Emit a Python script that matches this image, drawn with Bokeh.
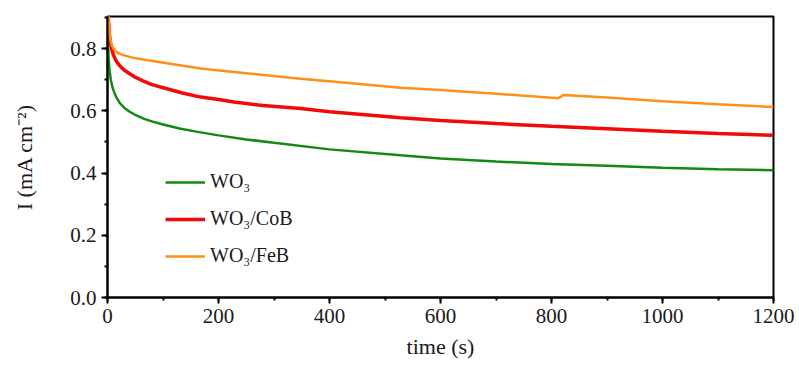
from bokeh.plotting import figure
from bokeh.models import Range1d, FixedTicker, PrintfTickFormatter, Legend, LegendItem
from bokeh.embed import file_html
from bokeh.resources import INLINE

# ---- data ----
t_wo3 = [0, 0.5, 1, 2, 3, 4, 6, 9, 12, 16, 22, 30, 40, 50, 65, 80, 100, 130, 160, 200, 250, 300, 400, 528, 600, 700, 800, 900, 1000, 1100, 1200]
i_wo3 = [0.95, 0.87, 0.82, 0.77, 0.745, 0.725, 0.70, 0.675, 0.660, 0.643, 0.625, 0.610, 0.597, 0.587, 0.575, 0.566, 0.556, 0.543, 0.533, 0.521, 0.508, 0.497, 0.476, 0.457, 0.447, 0.437, 0.429, 0.423, 0.417, 0.412, 0.409]

t_cob = [0, 1, 2, 3, 5, 8, 11, 15, 22, 30, 40, 50, 65, 80, 107, 135, 168, 200, 228, 280, 348, 400, 528, 600, 700, 800, 900, 1000, 1100, 1200]
i_cob = [1.0, 0.93, 0.88, 0.85, 0.82, 0.795, 0.778, 0.762, 0.745, 0.731, 0.719, 0.708, 0.695, 0.684, 0.671, 0.657, 0.644, 0.636, 0.628, 0.617, 0.607, 0.597, 0.578, 0.569, 0.559, 0.55, 0.542, 0.534, 0.527, 0.521]

t_feb = [0, 1, 2, 3, 5, 8, 11, 15, 22, 30, 47, 70, 107, 168, 228, 348, 400, 528, 600, 700, 800, 812, 822, 900, 1000, 1100, 1200]
i_feb = [1.0, 0.95, 0.90, 0.865, 0.83, 0.81, 0.80, 0.79, 0.783, 0.778, 0.770, 0.763, 0.753, 0.736, 0.725, 0.703, 0.695, 0.674, 0.667, 0.655, 0.642, 0.640, 0.651, 0.643, 0.631, 0.621, 0.612]

series_names = ["WO\u2083", "WO\u2083/CoB", "WO\u2083/FeB"]
x_ticks = [0, 200, 400, 600, 800, 1000, 1200]
y_ticks = [0.0, 0.2, 0.4, 0.6, 0.8]
x_label = "time (s)"
y_label = "I (mA cm\u207b\u00b2)"

FONT = "'Liberation Serif', 'Times New Roman', serif"

p = figure(width=799, height=367, output_backend="svg", toolbar_location=None,
           x_range=Range1d(0, 1200), y_range=Range1d(0, 0.903),
           min_border_left=107, min_border_right=26, min_border_top=16, min_border_bottom=70)

p.xgrid.visible = False
p.ygrid.visible = False
p.outline_line_color = "black"
p.outline_line_width = 2
p.background_fill_color = "white"
p.border_fill_color = "white"

r1 = p.line(t_wo3, i_wo3, line_color="#128a12", line_width=2.5)
r2 = p.line(t_cob, i_cob, line_color="#f00a0a", line_width=3.5)
r3 = p.line(t_feb, i_feb, line_color="#ff8f18", line_width=2.5)

legend = Legend(items=[LegendItem(label=series_names[0], renderers=[r1]),
                       LegendItem(label=series_names[1], renderers=[r2]),
                       LegendItem(label=series_names[2], renderers=[r3])],
                location=(58, 30))
legend.background_fill_alpha = 0
legend.border_line_color = None
legend.padding = 0
legend.margin = 0
legend.spacing = 14
legend.glyph_width = 40
legend.glyph_height = 20
legend.label_height = 20
legend.label_standoff = 5
legend.label_text_font = FONT
legend.label_text_font_size = "20px"
legend.label_text_color = "#1a1a1a"
p.add_layout(legend)

for ax in (p.xaxis[0], p.yaxis[0]):
    ax.axis_line_width = 2
    ax.axis_line_color = "black"
    ax.major_tick_line_width = 2
    ax.minor_tick_line_width = 2
    ax.major_tick_in = 0
    ax.major_tick_out = 6
    ax.minor_tick_in = 0
    ax.minor_tick_out = 3
    ax.major_label_text_font = FONT
    ax.major_label_text_font_size = "21px"
    ax.major_label_text_color = "#1a1a1a"
    ax.major_label_standoff = 5
    ax.axis_label_text_font = FONT
    ax.axis_label_text_font_size = "22px"
    ax.axis_label_text_font_style = "normal"
    ax.axis_label_text_color = "#1a1a1a"

p.xaxis.ticker = FixedTicker(ticks=x_ticks, minor_ticks=list(range(0, 1201, 100)))
p.yaxis.ticker = FixedTicker(ticks=y_ticks, minor_ticks=[i / 10 for i in range(0, 10)])
p.yaxis.formatter = PrintfTickFormatter(format="%.1f")

p.xaxis.axis_label = x_label
p.xaxis.axis_label_standoff = 8
p.yaxis.axis_label = y_label
p.yaxis.axis_label_standoff = 30

open("out.html", "w").write(file_html(p, INLINE))
